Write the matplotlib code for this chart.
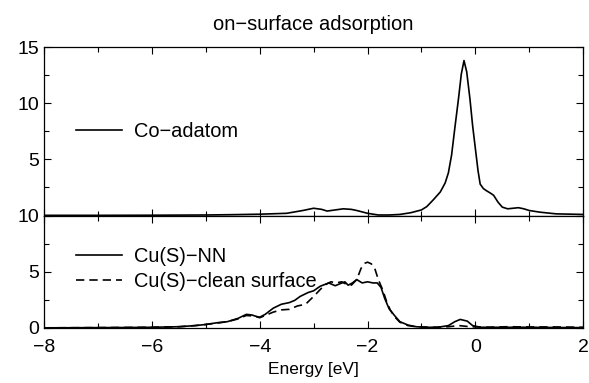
import matplotlib
matplotlib.use('Agg')
import matplotlib.pyplot as plt
from matplotlib.ticker import MultipleLocator

plt.rcParams['font.family'] = ['Liberation Sans', 'DejaVu Sans']

# Co-adatom DOS (top panel)
co_E = [-8, -7, -6, -5, -4.5, -4, -3.5, -3.2, -3.0, -2.85, -2.75, -2.6, -2.45, -2.3, -2.2,
        -2.0, -1.8, -1.6, -1.4, -1.2, -1.0, -0.9, -0.78, -0.65, -0.56, -0.5, -0.44, -0.38,
        -0.31, -0.26, -0.21, -0.16, -0.1, -0.05, 0.0, 0.05, 0.09, 0.15, 0.21, 0.28, 0.34,
        0.42, 0.5, 0.6, 0.7, 0.8, 0.9, 1.0, 1.2, 1.5, 2.0]
co_dos = [0.02, 0.02, 0.03, 0.05, 0.08, 0.12, 0.2, 0.45, 0.65, 0.55, 0.4, 0.5, 0.6, 0.55, 0.45,
          0.2, 0.05, 0.05, 0.1, 0.25, 0.5, 0.8, 1.4, 2.1, 2.9, 3.8, 5.4, 7.8,
          10.5, 12.6, 13.8, 12.8, 10.4, 8.0, 6.0, 4.0, 2.8, 2.4, 2.2, 2.0, 1.8,
          1.2, 0.75, 0.6, 0.65, 0.7, 0.6, 0.45, 0.3, 0.15, 0.1]

# Cu(S) nearest neighbour DOS (bottom panel, solid)
nn_E = [-8, -7, -6.5, -6, -5.5, -5.2, -5.0, -4.8, -4.6, -4.4, -4.25, -4.15, -4.05, -4.0, -3.9,
        -3.75, -3.6, -3.45, -3.35, -3.25, -3.1, -3.0, -2.88, -2.72, -2.6, -2.5, -2.42, -2.36,
        -2.28, -2.2, -2.1, -2.0, -1.9, -1.82, -1.75, -1.68, -1.6, -1.5, -1.4, -1.25, -1.1,
        -0.9, -0.7, -0.5, -0.38, -0.28, -0.15, -0.05, 0.1, 0.5, 1.0, 1.5, 2.0]
nn_dos = [0, 0.02, 0.03, 0.05, 0.1, 0.2, 0.3, 0.45, 0.55, 0.85, 1.2, 1.15, 1.0, 0.95, 1.2,
          1.75, 2.1, 2.25, 2.45, 2.8, 3.15, 3.3, 3.7, 4.0, 3.75, 3.95, 4.1, 3.8,
          4.0, 4.3, 4.0, 4.1, 4.0, 4.0, 3.6, 2.6, 1.7, 1.1, 0.55, 0.25, 0.1,
          0.05, 0.05, 0.2, 0.55, 0.75, 0.6, 0.2, 0.05, 0.05, 0.05, 0.03, 0.02]

# Cu(S) clean surface DOS (bottom panel, dashed)
cl_E = [-8, -7, -6, -5.5, -5.2, -5.0, -4.8, -4.6, -4.4, -4.25, -4.1, -4.0, -3.9, -3.75, -3.6,
        -3.45, -3.3, -3.15, -3.0, -2.9, -2.8, -2.68, -2.58, -2.48, -2.4, -2.3, -2.2, -2.12,
        -2.05, -2.0, -1.93, -1.86, -1.8, -1.72, -1.65, -1.58, -1.5, -1.4, -1.25, -1.1, -0.8,
        -0.5, -0.3, -0.1, 0.2, 0.6, 1.0, 1.5, 2.0]
cl_dos = [0, 0.02, 0.05, 0.1, 0.2, 0.3, 0.42, 0.55, 0.8, 1.1, 1.05, 0.9, 1.1, 1.4, 1.6,
          1.65, 1.95, 2.1, 2.8, 3.3, 3.8, 4.1, 4.0, 4.1, 3.9, 3.8, 4.3, 5.3,
          5.75, 5.85, 5.7, 5.2, 4.3, 3.4, 2.4, 1.6, 1.0, 0.5, 0.2, 0.1, 0.05,
          0.1, 0.2, 0.1, 0.05, 0.1, 0.08, 0.08, 0.05]

fig, (ax1, ax2) = plt.subplots(2, 1, sharex=True, figsize=(5.89, 3.83), dpi=100,
                               gridspec_kw={'height_ratios': [15, 10], 'hspace': 0})
fig.subplots_adjust(left=0.075, right=0.99, top=0.877, bottom=0.144)

ax1.plot(co_E, co_dos, color='black', lw=1.2, label='Co\u2212adatom')
ax2.plot(nn_E, nn_dos, color='black', lw=1.2, label='Cu(S)\u2212NN')
ax2.plot(cl_E, cl_dos, color='black', lw=1.2, ls=(0, (5, 3)), label='Cu(S)\u2212clean surface')

ax1.set_ylim(0, 15)
ax2.set_ylim(0, 10)
ax2.set_xlim(-8, 2)

ax1.set_yticks([5, 10, 15])
ax2.set_yticks([0, 5, 10])
for ax in (ax1, ax2):
    ax.yaxis.set_minor_locator(MultipleLocator(2.5))
    ax.xaxis.set_major_locator(MultipleLocator(2))
    ax.xaxis.set_minor_locator(MultipleLocator(1))
    ax.tick_params(which='both', direction='in', top=True, right=True, labelsize=14, width=0.8)
    ax.tick_params(which='major', length=5)
    ax.tick_params(which='minor', length=3.5)
    for s in ax.spines.values():
        s.set_linewidth(0.9)
ax2.tick_params(axis='x', which='major', pad=8)

ax1.set_title('on\u2212surface adsorption', fontsize=14.5, pad=12)
ax2.set_xlabel('Energy [eV]', fontsize=12.5, labelpad=4)

ax1.legend(loc='center left', bbox_to_anchor=(0.025, 0.5), frameon=False, fontsize=14.4,
           handlelength=2.3, handletextpad=0.6)
ax2.legend(loc='upper left', bbox_to_anchor=(0.025, 0.88), frameon=False, fontsize=14.4,
           handlelength=2.3, handletextpad=0.6, labelspacing=0.3)

fig.savefig('out.png', dpi=100)
